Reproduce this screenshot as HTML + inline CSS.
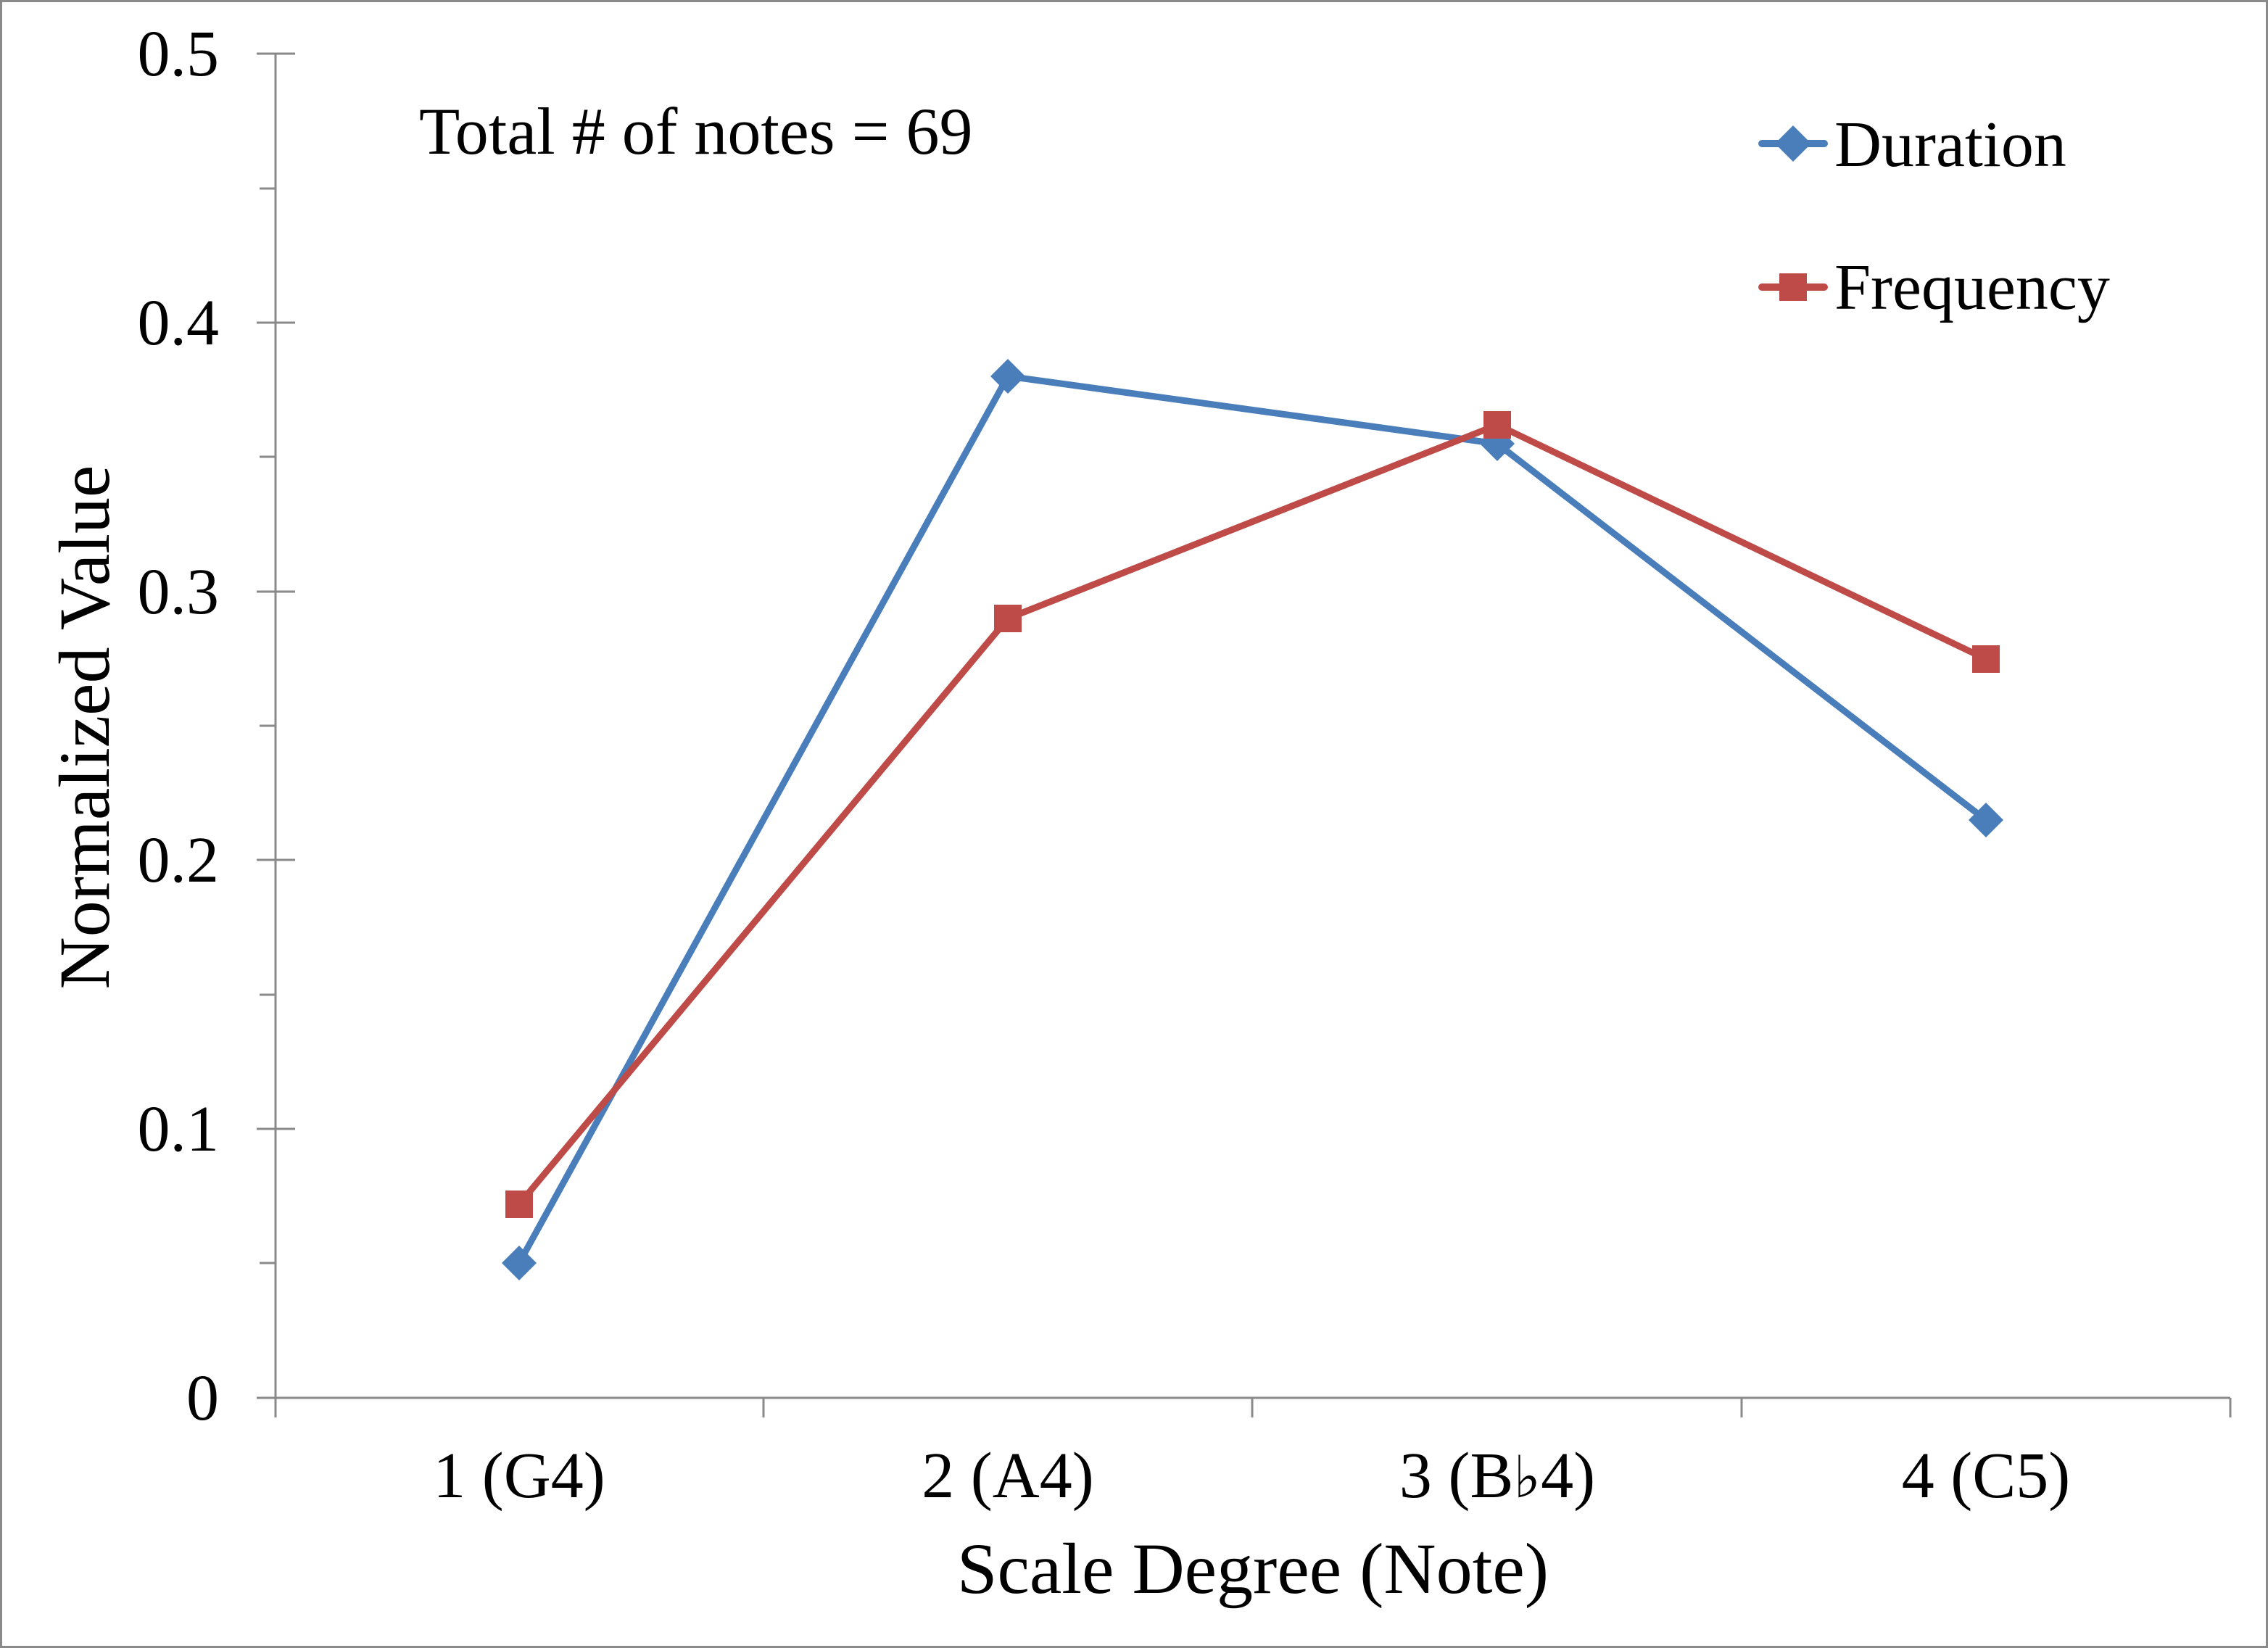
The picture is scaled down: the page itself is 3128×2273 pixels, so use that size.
<!DOCTYPE html>
<html><head><meta charset="utf-8"><style>
html,body{margin:0;padding:0;background:#fff;}
svg{display:block;}
text{font-family:"Liberation Serif","DejaVu Serif",serif;fill:#000;}
</style></head><body>
<svg width="3128" height="2273" viewBox="0 0 3128 2273" xmlns="http://www.w3.org/2000/svg">
<rect x="1.5" y="1.5" width="3125" height="2270" fill="#fff" stroke="#8a8a8a" stroke-width="3"/>
<g stroke="#8a8a8a" stroke-width="3">
<line x1="380" y1="74" x2="380" y2="1955"/>
<line x1="380" y1="1928" x2="3076" y2="1928"/>
<line x1="354" y1="74" x2="407" y2="74"/>
<line x1="354" y1="445" x2="407" y2="445"/>
<line x1="354" y1="816" x2="407" y2="816"/>
<line x1="354" y1="1186" x2="407" y2="1186"/>
<line x1="354" y1="1557" x2="407" y2="1557"/>
<line x1="354" y1="1928" x2="380" y2="1928"/>
<line x1="358" y1="260" x2="380" y2="260"/>
<line x1="358" y1="630" x2="380" y2="630"/>
<line x1="358" y1="1001" x2="380" y2="1001"/>
<line x1="358" y1="1372" x2="380" y2="1372"/>
<line x1="358" y1="1742" x2="380" y2="1742"/>
<line x1="1053" y1="1928" x2="1053" y2="1955"/>
<line x1="1727" y1="1928" x2="1727" y2="1955"/>
<line x1="2402" y1="1928" x2="2402" y2="1955"/>
<line x1="3076" y1="1928" x2="3076" y2="1955"/>
</g>
<g font-size="90" text-anchor="end">
<text x="302" y="104">0.5</text>
<text x="302" y="475">0.4</text>
<text x="302" y="846">0.3</text>
<text x="302" y="1216">0.2</text>
<text x="302" y="1587">0.1</text>
<text x="302" y="1958">0</text>
</g>
<g font-size="90" text-anchor="middle">
<text x="716" y="2065">1 (G4)</text>
<text x="1390" y="2065">2 (A4)</text>
<text x="2065" y="2065">3 (B<tspan font-family="DejaVu Serif" font-size="80">♭</tspan>4)</text>
<text x="2739" y="2065">4 (C5)</text>
<text x="1728" y="2197" font-size="100">Scale Degree (Note)</text>
<text transform="translate(150,1003) rotate(-90)" font-size="100">Normalized Value</text>
</g>
<text x="578" y="212" font-size="92">Total # of notes = 69</text>
<polyline points="716,1742 1390,519 2065,612 2739,1131" fill="none" stroke="#4a7ebb" stroke-width="9" stroke-linejoin="round"/>
<polyline points="716,1661 1390,853 2065,586 2739,909" fill="none" stroke="#be4b48" stroke-width="9" stroke-linejoin="round"/>
<g fill="#4a7ebb">
<polygon points="716,1718 740,1742 716,1766 692,1742"/>
<polygon points="1390,495 1414,519 1390,543 1366,519"/>
<polygon points="2065,588 2089,612 2065,636 2041,612"/>
<polygon points="2739,1107 2763,1131 2739,1155 2715,1131"/>
</g>
<g fill="#be4b48">
<rect x="697" y="1642" width="38" height="38"/>
<rect x="1371" y="834" width="38" height="38"/>
<rect x="2046" y="567" width="38" height="38"/>
<rect x="2720" y="890" width="38" height="38"/>
</g>
<line x1="2430" y1="198" x2="2516" y2="198" stroke="#4a7ebb" stroke-width="10" stroke-linecap="round"/>
<polygon points="2473,173 2498,198 2473,223 2448,198" fill="#4a7ebb"/>
<line x1="2430" y1="396" x2="2516" y2="396" stroke="#be4b48" stroke-width="10" stroke-linecap="round"/>
<rect x="2454" y="377" width="38" height="38" fill="#be4b48"/>
<text x="2530" y="229" font-size="90">Duration</text>
<text x="2530" y="426" font-size="90">Frequency</text>
</svg>
</body></html>
